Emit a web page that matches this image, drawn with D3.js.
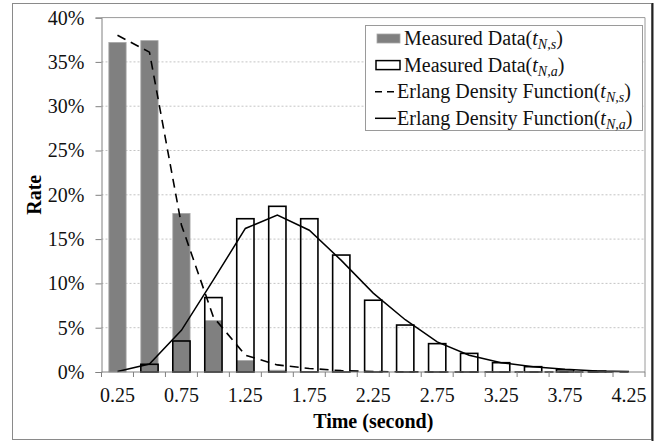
<!DOCTYPE html>
<html>
<head>
<meta charset="utf-8">
<script src="https://cdn.jsdelivr.net/npm/d3@7"></script>
<style>
  body { margin: 0; background: #fff; }
  svg { display: block; font-family: "Liberation Serif", "Times New Roman", serif; }
</style>
</head>
<body>
<svg id="chart" width="661" height="441"></svg>
<script>
// categories on the time axis (seconds)
const categories = ['0.25', '0.5', '0.75', '1', '1.25', '1.5', '1.75', '2', '2.25',
  '2.5', '2.75', '3', '3.25', '3.5', '3.75', '4', '4.25'];
// values in percent
const measuredS = [37.2, 37.4, 17.9, 5.8, 1.3, 0.2, 0.05, 0, 0, 0, 0, 0, 0, 0, 0, 0, 0];
const measuredA = [0, 0.87, 3.5, 8.4, 17.3, 18.7, 17.3, 13.2, 8.1, 5.3, 3.2, 2.1, 1.05, 0.6, 0.25, 0.1, 0];
const erlangS = [38.0, 36.1, 16.6, 6.2, 1.9, 0.8, 0.4, 0.15, 0.05, 0.02, 0, 0, 0, 0, 0, 0, 0];
const erlangA = [0.05, 0.9, 4.7, 10.4, 16.2, 17.7, 16.0, 12.6, 8.9, 5.9, 3.4, 1.9, 1.05, 0.6, 0.3, 0.1, 0.05];
const yTicks = [0, 5, 10, 15, 20, 25, 30, 35, 40];
const xLabels = ['0.25', '0.75', '1.25', '1.75', '2.25', '2.75', '3.25', '3.75', '4.25'];

const plot = { left: 101.5, right: 645, top: 17.6, bottom: 372 };
const fontSize = 20;

let svg = d3.select('#chart');

// outer frame
svg.append('rect')
  .attr('x', 12.5).attr('y', 3.5)
  .attr('width', 639).attr('height', 436)
  .attr('fill', 'none').attr('stroke', '#8a8a8a');
svg.append('line')
  .attr('x1', 652.5).attr('x2', 652.5).attr('y1', 3).attr('y2', 441)
  .attr('stroke', '#222').attr('stroke-width', 2);

let x = d3.scaleBand()
  .domain(categories)
  .range([plot.left, plot.right]);
const barW = x.step() * 0.54;
const cx = function(c){ return x(c) + x.step() / 2; };

let y = d3.scaleLinear()
  .domain([0, 40])
  .range([plot.bottom, plot.top]);

// gridlines
svg.append('g')
  .selectAll('line')
  .data(yTicks.filter(d => d > 0 && d < 40))
  .enter().append('line')
  .attr('x1', plot.left).attr('x2', plot.right)
  .attr('y1', d => y(d)).attr('y2', d => y(d))
  .attr('stroke', '#c4c4c4')
  .attr('stroke-dasharray', '2,2');

// plot area border (top / right)
svg.append('path')
  .attr('d', 'M' + plot.left + ',' + y(40) + 'H' + plot.right + 'V' + plot.bottom)
  .attr('fill', 'none').attr('stroke', '#9a9a9a');

// gray bars
svg.append('g')
  .selectAll('rect')
  .data(categories)
  .enter().append('rect')
  .attr('x', (c) => cx(c) - barW / 2)
  .attr('width', barW)
  .attr('y', (c, i) => y(measuredS[i]))
  .attr('height', (c, i) => y(0) - y(measuredS[i]))
  .attr('fill', '#808080')
  .attr('stroke', '#a8a8a8')
  .attr('stroke-width', 0.8);

// white (outlined) bars
svg.append('g')
  .selectAll('rect')
  .data(categories.filter((c, i) => measuredA[i] > 0))
  .enter().append('rect')
  .attr('x', (c) => cx(c) - barW / 2)
  .attr('width', barW)
  .attr('y', (c) => y(measuredA[categories.indexOf(c)]))
  .attr('height', (c) => y(0) - y(measuredA[categories.indexOf(c)]))
  .attr('fill', 'none')
  .attr('stroke', '#000')
  .attr('stroke-width', 1.6);

// erlang curves
let line = d3.line()
  .x((d) => cx(d.c))
  .y((d) => y(d.v));

svg.append('path')
  .datum(categories.map((c, i) => ({ c: c, v: erlangS[i] })))
  .attr('d', line)
  .attr('fill', 'none')
  .attr('stroke', '#000')
  .attr('stroke-width', 1.6)
  .attr('stroke-dasharray', '9,6');

svg.append('path')
  .datum(categories.map((c, i) => ({ c: c, v: erlangA[i] })))
  .attr('d', line)
  .attr('fill', 'none')
  .attr('stroke', '#000')
  .attr('stroke-width', 1.5);

// y axis
let yAxis = svg.append('g')
  .attr('transform', 'translate(' + plot.left + ',0)')
  .call(d3.axisLeft(y).tickValues(yTicks).tickSize(6).tickPadding(11).tickFormat(d => d + '%'));
yAxis.select('.domain').attr('stroke', '#808080');
yAxis.selectAll('.tick line').attr('stroke', '#808080');
yAxis.selectAll('text')
  .attr('font-family', '"Liberation Serif", serif')
  .attr('font-size', fontSize)
  .attr('fill', '#111');

// x axis: line, boundary ticks, labels
let xAxis = svg.append('g');
xAxis.append('line')
  .attr('x1', plot.left).attr('x2', plot.right)
  .attr('y1', y(0)).attr('y2', y(0))
  .attr('stroke', '#808080');
xAxis.selectAll('.btick')
  .data(categories.concat(['end']))
  .enter().append('line')
  .attr('x1', (c) => c === 'end' ? plot.right : x(c))
  .attr('x2', (c) => c === 'end' ? plot.right : x(c))
  .attr('y1', y(0)).attr('y2', y(0) + 5)
  .attr('stroke', '#808080');
xAxis.selectAll('text')
  .data(xLabels)
  .enter().append('text')
  .attr('x', (c) => cx(c))
  .attr('y', y(0) + 30)
  .attr('text-anchor', 'middle')
  .attr('font-size', fontSize)
  .attr('fill', '#111')
  .text(d => d);

// axis titles
svg.append('text')
  .attr('x', (plot.left + plot.right) / 2)
  .attr('y', 428)
  .attr('text-anchor', 'middle')
  .attr('font-size', fontSize)
  .attr('font-weight', 'bold')
  .text('Time (second)');

svg.append('text')
  .attr('transform', 'translate(41,' + ((plot.top + plot.bottom) / 2) + ') rotate(-90)')
  .attr('text-anchor', 'middle')
  .attr('font-size', fontSize)
  .attr('font-weight', 'bold')
  .text('Rate');

// legend
const legendItems = [
  { label: 'Measured Data(', sub: 'N,s', kind: 'gray' },
  { label: 'Measured Data(', sub: 'N,a', kind: 'white' },
  { label: 'Erlang Density Function(', sub: 'N,s', kind: 'dash' },
  { label: 'Erlang Density Function(', sub: 'N,a', kind: 'solid' }
];
let legend = svg.append('g');
legend.append('rect')
  .attr('x', 365.5).attr('y', 25.5)
  .attr('width', 277).attr('height', 105)
  .attr('fill', '#fff').attr('stroke', '#9a9a9a');

let rows = legend.selectAll('g.row')
  .data(legendItems)
  .enter().append('g')
  .attr('transform', (d, i) => 'translate(0,' + (38.5 + i * 26.6) + ')');

rows.each(function(d){
  let g = d3.select(this);
  if(d.kind === 'gray'){
    g.append('rect').attr('x', 377).attr('y', -4.5).attr('width', 23).attr('height', 9)
      .attr('fill', '#808080').attr('stroke', '#a8a8a8').attr('stroke-width', 0.8);
  } else if(d.kind === 'white'){
    g.append('rect').attr('x', 376).attr('y', -4.5).attr('width', 24).attr('height', 9)
      .attr('fill', 'none').attr('stroke', '#000').attr('stroke-width', 1.5);
  } else {
    g.append('line').attr('x1', 375).attr('x2', 396).attr('y1', 0).attr('y2', 0)
      .attr('stroke', '#000').attr('stroke-width', 1.5)
      .attr('stroke-dasharray', d.kind === 'dash' ? '7,5' : null);
  }
  let t = g.append('text')
    .attr('x', d.kind === 'gray' || d.kind === 'white' ? 404 : 397)
    .attr('y', 6.5)
    .attr('font-size', fontSize)
    .attr('fill', '#111');
  t.append('tspan').text(d.label);
  t.append('tspan').attr('font-style', 'italic').text('t');
  t.append('tspan').attr('font-style', 'italic').attr('font-size', 14).attr('dy', 4).text(d.sub);
  t.append('tspan').attr('dy', -4).text(')');
});
</script>
</body>
</html>
